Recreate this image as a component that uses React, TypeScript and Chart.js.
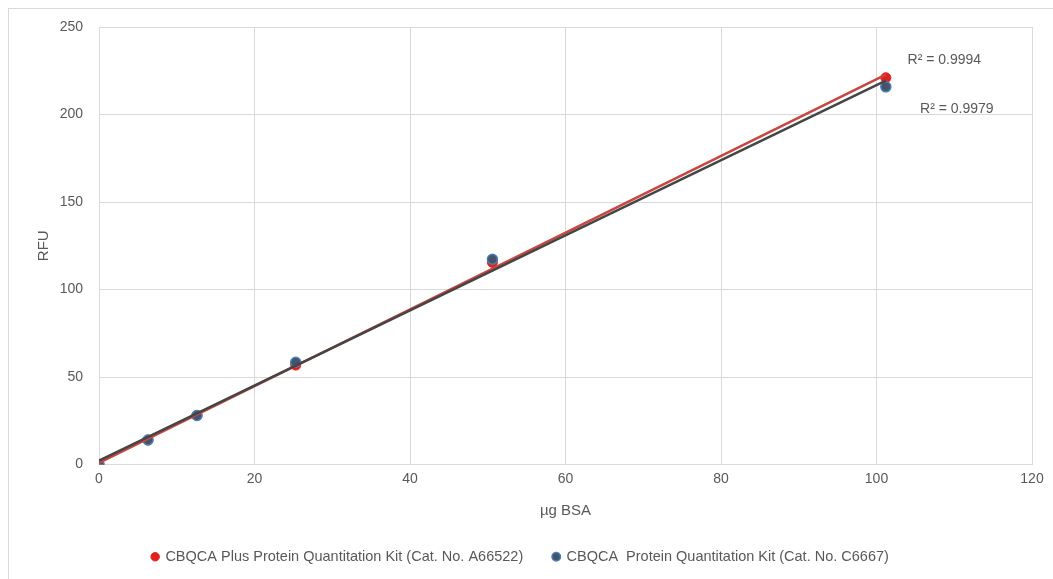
import React, { useEffect, useRef } from "react";
import { Chart, registerables } from "chart.js";

Chart.register(...registerables);

const bsaUg = [0, 6.3, 12.6, 25.3, 50.6, 101.2];
const plusRfu = [0, 14, 28, 56.8, 115.5, 221];
const classicRfu = [0, 14, 28, 58.4, 117.3, 215.8];
const seriesNames = [
  "CBQCA Plus Protein Quantitation Kit (Cat. No. A66522)",
  "CBQCA  Protein Quantitation Kit (Cat. No. C6667)",
];
const r2Labels = ["R² = 0.9994", "R² = 0.9979"];
const r2AnchorX = [104, 105.6];
const r2AnchorY = [231, 203];
const xTitle = "µg BSA";
const yTitle = "RFU";

const FONT = "'Liberation Sans', Arial, sans-serif";
const TEXT = "#595959";
const GRID = "#d9d9d9";

function fit(xs: number[], ys: number[]) {
  const n = xs.length;
  const mx = xs.reduce((a, b) => a + b, 0) / n;
  const my = ys.reduce((a, b) => a + b, 0) / n;
  let sxy = 0;
  let sxx = 0;
  for (let i = 0; i < n; i++) {
    sxy += (xs[i] - mx) * (ys[i] - my);
    sxx += (xs[i] - mx) * (xs[i] - mx);
  }
  const slope = sxy / sxx;
  const intercept = my - slope * mx;
  const x0 = Math.min(...xs);
  const x1 = Math.max(...xs);
  return [
    { x: x0, y: intercept + slope * x0 },
    { x: x1, y: intercept + slope * x1 },
  ];
}

const r2Plugin = {
  id: "r2text",
  afterDatasetsDraw(chart: any) {
    const { ctx, scales } = chart;
    ctx.save();
    ctx.font = `14px ${FONT}`;
    ctx.fillStyle = TEXT;
    ctx.textAlign = "left";
    ctx.textBaseline = "middle";
    r2Labels.forEach((t, i) => {
      ctx.fillText(t, scales.x.getPixelForValue(r2AnchorX[i]), scales.y.getPixelForValue(r2AnchorY[i]));
    });
    ctx.restore();
  },
};

export default function App() {
  const ref = useRef<HTMLCanvasElement | null>(null);
  useEffect(() => {
    if (!ref.current) return;
    const pts = (ys: number[]) => bsaUg.map((x, i) => ({ x, y: ys[i] }));
    const chart = new Chart(ref.current, {
      type: "scatter",
      data: {
        datasets: [
          {
            label: seriesNames[0],
            data: pts(plusRfu),
            backgroundColor: "#e3211c",
            borderColor: "#e3211c",
            pointRadius: 5,
            pointBorderWidth: 1,
            order: 4,
          },
          {
            label: seriesNames[1],
            data: pts(classicRfu),
            backgroundColor: "#44546a",
            borderColor: "#4a7ebb",
            pointRadius: 5,
            pointBorderWidth: 1.5,
            order: 3,
          },
          {
            label: "trend1",
            type: "line",
            data: fit(bsaUg, plusRfu),
            borderColor: "#c9453f",
            borderWidth: 2.5,
            pointRadius: 0,
            showLine: true,
            order: 2,
          },
          {
            label: "trend2",
            type: "line",
            data: fit(bsaUg, classicRfu),
            borderColor: "#454545",
            borderWidth: 2.5,
            pointRadius: 0,
            showLine: true,
            order: 1,
          },
        ] as any,
      },
      options: {
        animation: false,
        responsive: false,
        layout: { padding: { top: 18, right: 20, left: 0, bottom: 4 } },
        scales: {
          x: {
            type: "linear",
            min: 0,
            max: 120,
            ticks: { stepSize: 20, color: TEXT, font: { family: FONT, size: 14 }, padding: 6 },
            grid: { color: GRID, drawTicks: false },
            border: { color: GRID },
            title: {
              display: true,
              text: xTitle,
              color: TEXT,
              font: { family: FONT, size: 15 },
              padding: { top: 0, bottom: 0 },
            },
            afterFit(s: any) {
              s.height = 55;
            },
          },
          y: {
            min: 0,
            max: 250,
            ticks: { stepSize: 50, color: TEXT, font: { family: FONT, size: 14 }, padding: 16 },
            grid: { color: GRID, drawTicks: false },
            border: { color: GRID },
            title: {
              display: true,
              text: yTitle,
              color: TEXT,
              font: { family: FONT, size: 15 },
              padding: { top: 26, bottom: 0 },
            },
            afterFit(s: any) {
              s.width = 90;
              s.paddingTop = 0;
              s.paddingBottom = 0;
            },
          },
        },
        plugins: {
          legend: {
            position: "bottom",
            labels: {
              color: TEXT,
              font: { family: FONT, size: 14.5 },
              usePointStyle: true,
              pointStyle: "circle",
              boxWidth: 6,
              boxHeight: 6,
              padding: 30,
              filter: (item: any) => item.datasetIndex < 2,
              sort: (a: any, b: any) => a.datasetIndex - b.datasetIndex,
            },
          },
          tooltip: { enabled: false },
        },
      } as any,
      plugins: [r2Plugin],
    });
    return () => chart.destroy();
  }, []);
  return (
    <div
      style={{
        position: "fixed",
        left: 8,
        top: 8,
        width: 1070,
        height: 600,
        border: `1px solid ${GRID}`,
        boxSizing: "border-box",
        background: "#fff",
      }}
    >
      <canvas ref={ref} width={1043} height={569} style={{ display: "block" }} />
    </div>
  );
}
